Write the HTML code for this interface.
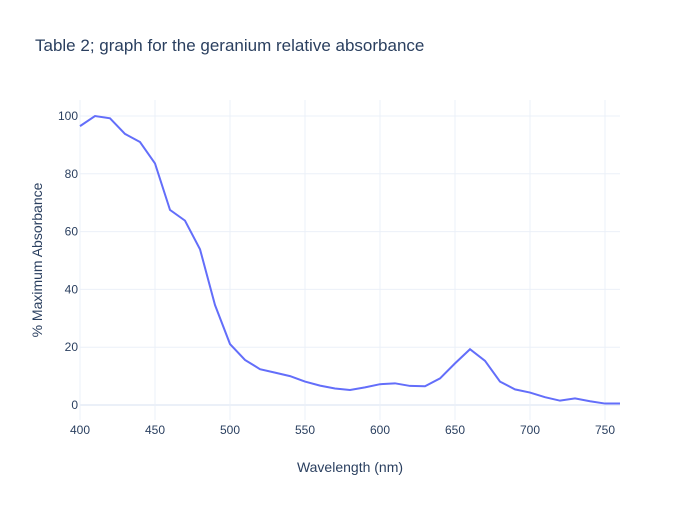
<!DOCTYPE html>
<html><head><meta charset="utf-8"><style>
body{margin:0;background:#fff}
svg text{font-family:"Liberation Sans",sans-serif;fill:#2a3f5f}
</style></head><body>
<svg id="chart" width="700" height="500">
<text x="35" y="51" font-size="17">Table 2; graph for the geranium relative absorbance</text>
<g id="grid"></g>
<g id="ticks"></g>
<path id="line" fill="none" stroke="#636efa" stroke-width="2"/>
<text x="350" y="472" font-size="14" text-anchor="middle">Wavelength (nm)</text>
<text transform="translate(42,260) rotate(-90)" font-size="14" text-anchor="middle">% Maximum Absorbance</text>
</svg>
<script>
const wavelengths=[400,410,420,430,440,450,460,470,480,490,500,510,520,530,540,550,560,570,580,590,600,610,620,630,640,650,660,670,680,690,700,710,720,730,740,750,760];
const absorbance=[96.5,100,99.2,93.8,91,83.6,67.5,63.8,53.9,34.6,21.1,15.6,12.4,11.2,10,8.1,6.7,5.7,5.2,6.1,7.2,7.5,6.6,6.5,9.2,14.4,19.3,15.3,8.1,5.4,4.3,2.7,1.5,2.3,1.3,0.5,0.5];
const xTicks=[400,450,500,550,600,650,700,750];
const yTicks=[0,20,40,60,80,100];
const X=v=>80+(v-400)*1.5;
const Y=v=>405-v*2.89;
const ns="http://www.w3.org/2000/svg";
const grid=document.getElementById('grid'),ticks=document.getElementById('ticks');
xTicks.forEach(t=>{
  const l=document.createElementNS(ns,'line');
  
  
  l.setAttribute('x1',X(t));l.setAttribute('x2',X(t));l.setAttribute('y1',100);l.setAttribute('y2',420);
  l.setAttribute('stroke','#ebf0f8');grid.appendChild(l);
  const tx=document.createElementNS(ns,'text');
  
  
  tx.setAttribute('x',X(t));tx.setAttribute('y',434);tx.setAttribute('font-size','12');tx.setAttribute('text-anchor','middle');
  tx.textContent=t;ticks.appendChild(tx);
});
yTicks.forEach(t=>{
  const l=document.createElementNS(ns,'line');
  
  
  l.setAttribute('x1',80);l.setAttribute('x2',620);l.setAttribute('y1',Y(t));l.setAttribute('y2',Y(t));
  l.setAttribute('stroke',t===0?'#ebf0f8':'#ebf0f8');l.setAttribute('stroke-width',t===0?2:1);grid.appendChild(l);
  const tx=document.createElementNS(ns,'text');
  
  
  tx.setAttribute('x',78);tx.setAttribute('y',Y(t)+4);tx.setAttribute('font-size','12');tx.setAttribute('text-anchor','end');
  tx.textContent=t;ticks.appendChild(tx);
});
document.getElementById('line').setAttribute('d',wavelengths.map((w,i)=>(i?'L':'M')+X(w)+','+Y(absorbance[i])).join(''));
</script>
</body></html>
